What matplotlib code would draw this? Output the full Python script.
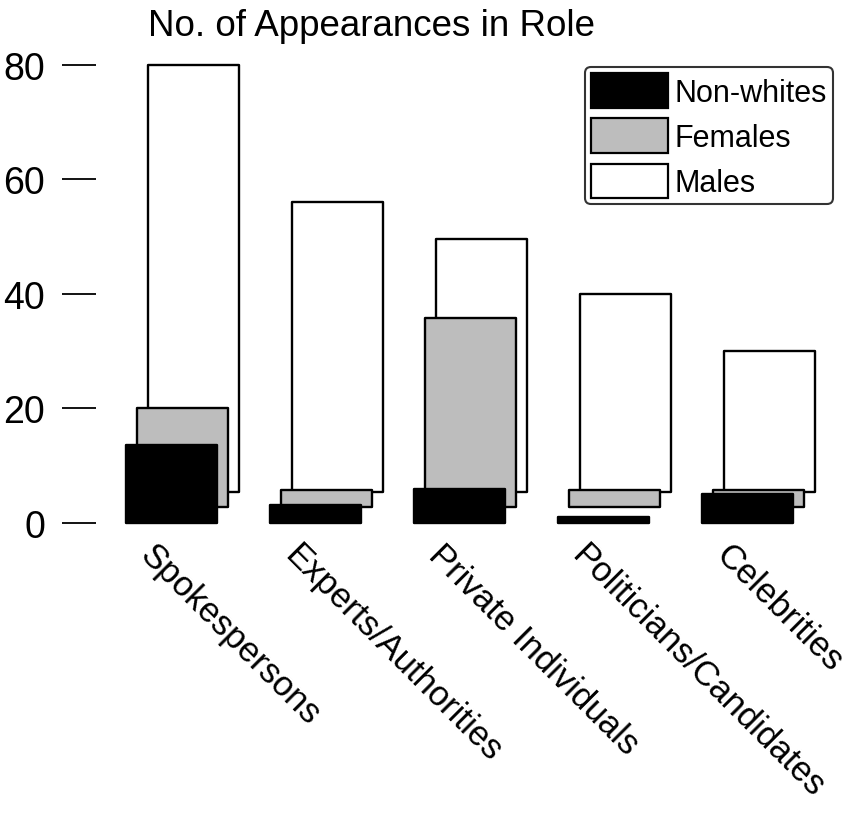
import matplotlib
matplotlib.use("Agg")
import matplotlib.pyplot as plt
from matplotlib.patches import Rectangle, Patch

plt.rcParams['font.family'] = ['Liberation Sans', 'DejaVu Sans']

categories = ['Spokespersons', 'Experts/Authorities', 'Private Individuals',
              'Politicians/Candidates', 'Celebrities']
males = [80, 56, 49.5, 40, 30]
females = [20, 5.6, 35.7, 5.6, 5.7]
nonwhites = [13.5, 3.0, 5.9, 0.9, 5.0]
series_names = ['Non-whites', 'Females', 'Males']
yticks = [0, 20, 40, 60, 80]

W, H = 849, 820
fig = plt.figure(figsize=(W / 100, H / 100), dpi=100)
ax_left, ax_right, ax_top, ax_bot = 96, 849, 66, 523.5
ax = fig.add_axes([ax_left / W, 1 - ax_bot / H, (ax_right - ax_left) / W, (ax_bot - ax_top) / H])

group = 144.0  # px per category
bar_w = 91 / group
ax.set_xlim(0, (ax_right - ax_left) / group)
ax.set_ylim(0, 80)

px_per_unit = (ax_bot - ax_top) / 80
depth = {
    'Males': (22 / group, 31 / px_per_unit),
    'Females': (11 / group, 16 / px_per_unit),
    'Non-whites': (0.0, 0.0),
}
styles = {
    'Males': 'white',
    'Females': '#bdbdbd',
    'Non-whites': 'black',
}
data = {'Males': males, 'Females': females, 'Non-whites': nonwhites}

first_left = (126 - ax_left) / group
for z, name in enumerate(['Males', 'Females', 'Non-whites']):
    dx, base = depth[name]
    for i, v in enumerate(data[name]):
        left = first_left + i + dx
        r = Rectangle((left, base), bar_w, v - base, facecolor=styles[name],
                      edgecolor='black', linewidth=1.7, joinstyle='round',
                      clip_on=False, zorder=2 + z)
        ax.add_patch(r)

for s in ax.spines.values():
    s.set_visible(False)
ax.set_xticks([])
ax.set_yticks(yticks)
ax.set_yticklabels([str(t) for t in yticks], fontsize=27)
ax.tick_params(axis='y', length=24.5, width=1.3, pad=12, direction='out')

for i, c in enumerate(categories):
    xa = first_left + i + 31 / group
    ax.text(xa, -2.6, c, rotation=-45, rotation_mode='anchor', ha='left', va='top',
            fontsize=25, clip_on=False)

fig.text(148 / W, 1 - 36 / H, 'No. of Appearances in Role', ha='left', va='baseline', fontsize=26.5)

fs = 22
fpx = fs * 100 / 72
handles = [Patch(facecolor=styles[n], edgecolor='black', linewidth=1.6, label=n) for n in series_names]
leg = fig.legend(handles=handles, loc='upper right', bbox_to_anchor=(833 / W, 1 - 68 / H),
                 bbox_transform=fig.transFigure, fontsize=fs, handlelength=77 / fpx,
                 handleheight=1.38, labelspacing=0.34, handletextpad=7 / fpx,
                 borderpad=6 / fpx, borderaxespad=0, fancybox=True, frameon=True)
leg.get_frame().set_edgecolor('black')
leg.get_frame().set_linewidth(1.5)

fig.savefig('out.png', dpi=100)
